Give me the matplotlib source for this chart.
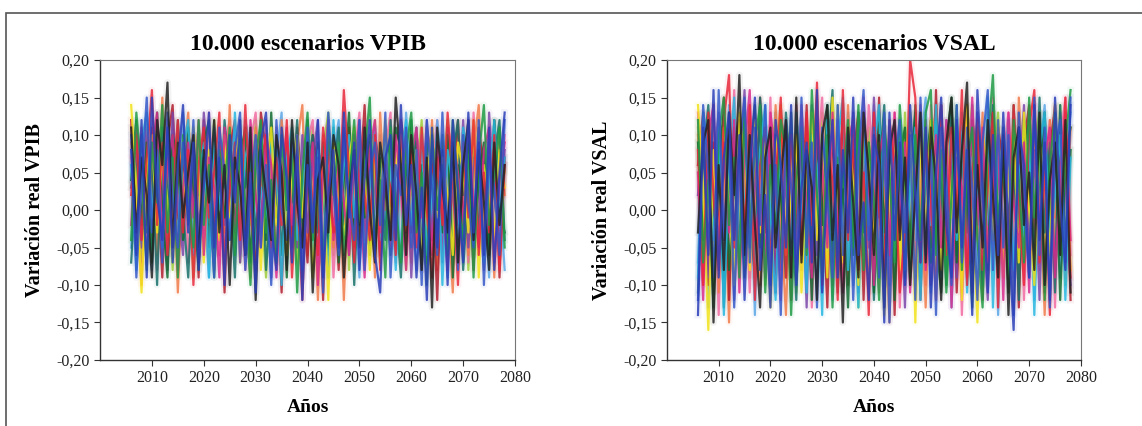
import matplotlib
matplotlib.use("Agg")
import matplotlib.pyplot as plt
import numpy as np
from matplotlib.patches import Rectangle
from matplotlib.ticker import FuncFormatter

# Scenario paths, in hundredths, one value per year from 2006
FIRST_YEAR = 2006

vpib_blue = [8, -6, 12, -9, 15, 2, -4, 11, -7, 6, 14, -3, 9, -8, 3, 13, -5, 7, -10, 10,
             1, 12, -6, 5, -11, 9, 13, -2, -8, 11, 4, -7, 10, -12, 6, -3, 12, -9, 2, 8,
             -5, 13, -1, 9, -8, 4, 12, -6, -11, 7, 10, -4, 14, -2, 6, -9, 3, -12, 11, -5,
             8, -10, 12, 2, -7, 13, -3, 9, -6, 11, -8, 5, 13]
vpib_red = [2, 10, -4, 7, 16, -2, 9, -6, 4, 12, -3, 8, -10, 6, 11, -1, 5, 13, -7, 3,
            9, -4, 14, 0, -8, 6, 10, -5, 7, -2, 12, -9, 3, -12, 8, 1, -6, 11, 4, -3,
            -1, 16, 5, -7, 9, 2, -4, 10, -8, 6, 3, -6, 12, -3, 8, -5, 11, 0, -9, 7,
            -2, 13, 4, -10, 9, -1, 12, -6, 5, -3, 10, -8, 6]
vpib_green = [-4, 13, 5, -8, 9, 1, 14, -3, 7, -9, 10, 2, -5, 12, -2, 6, -9, 8, 3, 11,
              -6, 9, 1, -10, 7, 12, -3, 4, -7, 10, 0, 8, -11, 5, 13, -4, 6, -8, 11, 2,
              9, -6, 3, 12, -2, 7, 15, -5, 4, -9, 11, 1, -7, 8, 13, -3, 5, -10, 10, 0,
              6, -6, 12, 3, -4, 9, -9, 7, 14, -2, 4, 11, -5]
vpib_yellow = [14, 3, -11, 6, 10, -3, 8, 1, -6, 9, 4, -2, 11, 5, -7, 8, 2, -4, 10, -1,
               6, 12, -5, 3, 9, -8, 5, 11, -2, 7, -6, 4, 10, -1, 8, -9, 3, 6, -12, 9,
               2, -4, 7, 11, -3, 5, -8, 9, 1, 12, -2, 6, 10, -5, 3, 8, -7, 4, 11, -1,
               7, 2, -6, 9, 5, -3, 12, -9, 6, 1, -4, 8, 3]
vpib_cyan = [6, -8, 9, 13, -1, 7, -5, 10, 2, -3, 8, 12, -6, 4, 9, -9, 11, 0, 6, -4,
             13, -2, 7, 10, -7, 3, -1, 9, 5, -10, 7, 11, -4, 2, 10, -6, 8, 4, -9, 12,
             -3, 6, 10, -1, 8, -7, 3, 11, -4, 9, 5, -8, 7, 12, -2, 4, 9, -6, 2, 10,
             -10, 8, 3, -5, 11, 6, -2, 9, -7, 4, 12, -1, 7]
vpib_magenta = [-2, 11, 4, -7, 8, 13, -4, 6, 10, -8, 3, 9, -1, 12, -6, 7, 3, -9, 11, 5,
                -3, 8, -6, 12, 2, -5, 10, 6, -9, 4, 11, -2, 7, -7, 3, 9, -10, 5, 12, -4,
                7, 1, -6, 10, 4, -9, 8, 12, -3, 5, -5, 10, 3, -8, 7, 11, -1, 6, -6, 9,
                2, -8, 10, 5, -2, 12, 1, -5, 8, 11, -7, 4, 9]
vpib_black = [11, -3, 7, 2, -9, 12, 6, 17, -5, 9, -1, 5, 10, -7, 8, 1, 12, -3, 6, -10,
              7, 3, -6, 11, -12, 8, 2, -4, 10, 5, -8, 12, 1, -5, 9, -11, 4, 7, -3, 10,
              6, -9, 2, 8, -5, 11, 0, -7, 9, 4, -4, 15, 6, -6, 10, 2, -8, 7, -13, 11,
              3, -3, 9, -7, 6, 12, -4, 8, 1, -8, 9, -2, 6]
vpib_orange = [9, 1, -10, 11, 5, -6, 15, -2, 8, -11, 6, 13, -4, 9, 2, -7, 11, 4, -3, 14,
               -5, 7, 0, -9, 11, 4, -2, 8, -7, 12, 3, -4, 9, 14, -6, 5, -12, 10, 2, -5,
               8, -12, 6, 1, 10, -3, 7, -9, 13, 0, 6, -4, 11, 3, -7, 9, 5, -2, 12, -8,
               7, 1, -11, 10, 4, -6, 8, 14, -3, 6, -9, 10, 2]
vpib_purple = [3, 8, -5, 12, -2, 10, 4, -8, 13, 1, -6, 10, 6, -3, 13, 4, -8, 9, -2, 7,
               11, -7, 5, 2, 9, -3, 12, -9, 6, 0, 8, 5, -5, 10, -3, 7, 12, -7, 4, 9,
               -2, 11, -6, 5, 12, -4, 9, 3, -6, 10, 7, -2, 4, 10, -9, 6, 1, 12, -4, 8,
               -7, 11, 5, -2, 12, -5, 7, 3, -8, 13, 2, -5, 8]
vpib_teal = [-7, 5, 10, -3, 7, -10, 11, 3, -6, 12, 0, -9, 7, 2, 10, -5, 8, -2, 12, 4,
             -9, 11, 3, 7, -4, 10, -8, 2, 9, -6, 6, 1, 12, -9, 5, 10, -3, 9, -6, 5,
             11, -2, 9, -10, 6, 3, -6, 10, 5, -4, 12, 0, -9, 6, 2, 11, -6, 9, 4, -3,
             10, -4, 7, 12, -8, 3, 10, -3, 6, -5, 7, 12, -4]
vpib_blue2 = [10, -9, 4, 15, -3, 8, -7, 13, 1, -5, 9, -2, 12, -6, 7, 3, -9, 11, 5, -4,
              8, 13, -8, 2, 10, -5, 6, -10, 12, 0, -4, 9, 5, -8, 11, -2, 7, -11, 13, 3,
              -6, 10, 1, -4, 12, -8, 5, 9, -2, 13, -9, 6, 2, 11, -5, 8, -10, 12, 3, -6,
              13, -3, 7, -8, 10, 1, -5, 12, -10, 7, 3, -6, 12]
vpib_dkgreen = [4, 12, -2, 9, -7, 13, 0, -9, 10, 6, -4, 11, 2, -8, 9, 12, -6, 4, -1, 10,
                -3, 7, 11, -7, 5, 9, -4, 13, -1, 6, -9, 10, 4, -3, 12, -8, 9, 2, -5, 11,
                -7, 4, 13, -3, 8, -1, 10, -6, 7, 3, -6, 11, 8, -4, 12, -2, 6, -7, 9, 5,
                -3, 10, -9, 6, 2, 11, -5, 4, 9, -6, 12, 0, -3]
vpib_pink = [7, 3, 11, -5, 10, -8, 6, 12, -3, 4, 11, -7, 5, 10, -3, 13, 1, -6, 8, 12,
             -2, 5, -8, 9, 13, -1, 7, -6, 11, 3, -5, 6, 10, -2, 9, 12, -7, 3, 8, -9,
             5, 10, -4, 7, 13, -6, 2, 11, -1, 8, 13, -7, 9, 4, -3, 10, 7, -9, 5, 12,
             -1, 6, 11, -4, 8, -7, 13, 2, -5, 9, 6, -7, 10]
vpib_ltblue = [-5, 9, 1, 12, -8, 5, 10, -4, 12, -7, 13, 4, -6, 8, 1, -9, 10, 6, -7, 9,
               4, -6, 12, 8, -3, 11, 2, -9, 7, 13, -7, 4, 9, -6, 12, 3, -5, 10, -9, 7,
               12, -3, 8, 4, -9, 11, 6, -4, 10, -2, 9, 4, -6, 13, 1, -8, 10, 6, -3, 12,
               5, -9, 8, 11, -1, 7, -6, 10, 4, -9, 11, 3, -8]
vpib_dkred = [12, -4, 8, -2, 11, 5, -9, 9, 14, -4, 7, 1, 10, -9, 12, 5, -3, 9, -11, 8,
              12, -1, 4, 10, -6, 13, 8, -3, 5, -11, 9, -5, 11, 2, -7, 10, 6, -12, 9, 4,
              -8, 7, 11, -5, 3, 14, -2, 8, -6, 10, 1, -5, 12, 7, -3, 9, -8, 11, 6, -12,
              9, -6, 4, 12, -2, 7, -8, 11, 5, -5, 12, -9, 7]
vpib_lime = [3, 8, -7, 10, 4, -5, 12, 5, -8, 10, 2, 7, -9, 11, 4, -2, 12, -5, 9, 1,
             11, -7, 8, -2, 12, 1, -9, 10, 4, 8, -3, 11, -7, 6, 2, 11, -4, 8, 13, -6,
             3, 9, -8, 11, 1, 6, -3, 12, -7, 4, 10, -2, 6, -8, 11, 4, 12, -3, 8, -7,
             4, 12, -5, 2, 10, -8, 6, 11, -3, 8, -6, 9, 5]

vsal_blue = [-14, 11, -6, 16, -9, 7, 13, -4, 10, -12, 5, 15, -8, 2, -13, 12, 6, -5, 14, -10,
             3, 9, -7, 16, -11, 4, 12, -9, 8, -3, 15, -6, 1, -12, 10, 6, -15, 13, -4, 9,
             -10, 14, 2, -7, 11, -13, 5, 15, -2, -9, 12, -5, 8, -14, 16, 3, -11, 10, -6, 13,
             -3, -16, 11, 6, -9, 14, -4, 9, -12, 15, 1, -8, 14]
vsal_red = [8, -10, 13, 2, -8, 12, 18, -5, 9, -3, 14, -12, 6, 11, -7, 3, 15, -9, 10, 1,
            -6, 13, -2, 17, -10, 8, 4, -12, 16, -4, 10, -8, 5, -14, 13, 0, -9, 12, 6, -11,
            -3, 20, 15, -7, 9, 2, -12, 14, -6, 11, -1, 16, -10, 5, 12, -8, 3, 13, -13, 9,
            -5, 14, 2, -10, 11, 16, -7, 6, -14, 12, -2, 15, -9]
vsal_green = [12, -7, 4, -13, 10, 15, -2, 7, -9, 13, -5, 9, 14, -11, 6, -3, 12, 8, -14, 4,
              11, -6, 16, 2, -9, 10, -13, 7, 3, 12, -5, 14, -8, 9, 1, -12, 11, 5, -7, 14,
              4, -9, 10, -4, 13, 16, -6, 8, -11, 2, 14, -8, 6, 11, -4, -13, 9, 18, -2, 7,
              -10, 12, 4, -7, 15, -1, 10, -12, 6, 13, -6, 9, 16]
vsal_yellow = [14, 3, -16, 8, -5, 11, 1, -10, 13, 6, -8, 12, -3, 9, -13, 7, 14, -6, 2, 10,
               -11, 5, 13, -4, 8, -9, 15, 1, -7, 11, 4, -10, 12, 7, -5, 9, -14, 3, 10, -8,
               6, 13, -15, 9, -3, 12, 5, -8, 11, -1, 8, -12, 14, 2, -15, 10, 6, -4, 12, -9,
               5, 11, -7, 13, 0, -10, 9, 4, -6, 14, -3, 10, -8]
vsal_cyan = [-9, 13, 7, -4, 11, -14, 6, 15, -7, 3, 12, -10, 8, 14, -1, -12, 9, 5, -6, 13,
             2, -11, 10, 6, -14, 12, -3, 9, 15, -8, 4, -13, 11, -2, 8, 14, -10, 6, -5, 12,
             -8, 3, 11, -12, 7, -2, 14, -9, 5, 10, -4, 13, -11, 7, 2, -6, 15, -13, 9, 4,
             12, -8, 6, -3, 11, -14, 8, 13, -5, 2, 10, -12, 7]
vsal_magenta = [5, -12, 10, 14, -6, 9, -3, 12, -11, 8, 16, -4, 2, -9, 13, 7, -12, 10, 4, -7,
                14, 0, -9, 11, 6, -5, 13, -2, -11, 9, 12, -7, 15, 3, -10, 7, 11, -6, 13, -3,
                9, -11, 5, 14, -8, 1, 10, -5, 12, -13, 7, 3, -9, 15, -2, 11, -7, 4, 10, -12,
                13, 1, -5, 9, -11, 14, -2, 7, 11, -9, 5, 13, -4]
vsal_black = [-3, 9, 12, -15, 6, -8, 13, 2, 18, -6, 10, -2, -13, 7, 11, -5, 4, 12, -9, 15,
              -7, 8, 3, -12, 10, 14, -4, 6, -15, 11, 1, -9, 13, 5, -6, 10, -13, 8, 12, -4,
              7, -10, 2, 13, -7, 11, 4, -12, 9, 15, -3, 8, 17, -11, 6, -5, 12, 2, -9, 10,
              -14, 7, 11, -2, 5, -8, 13, -10, 4, 9, -6, 12, -11]
vsal_orange = [10, -5, 3, 14, -11, 6, -15, 11, 8, -2, 13, 5, -10, 9, -6, 14, -1, -14, 8, 3,
               12, -8, 6, 15, -3, -7, 11, 4, -10, 14, -2, 9, 6, -11, 13, -8, 3, -15, 10, 7,
               -5, 12, -9, 4, -13, 8, 14, -1, 10, -7, 5, -11, 12, 8, -4, 13, -9, 2, 11, -6,
               9, -13, 15, 3, -8, 10, 5, -14, 12, -1, 7, -9, 11]
vsal_purple = [2, 11, -9, 6, 13, -4, 9, -12, 5, 16, -6, 3, 12, -8, 8, -11, 14, 2, -5, 11,
               7, -13, 14, -6, 9, 3, -10, 12, 6, -4, 13, -11, 8, -5, 15, -1, 7, -10, 11, 4,
               -13, 9, 6, -6, 12, -10, 3, 14, -4, 8, -9, 11, 5, -7, 13, 0, -12, 10, 6, -5,
               12, -9, 3, 14, -6, 8, -12, 11, 2, -8, 13, 4, -10]
vsal_teal = [-11, 7, 14, -2, 9, -13, 4, 11, -6, 13, 0, -9, 15, 6, -4, 10, -8, 13, 3, -12,
             9, 5, -4, 12, -8, 7, 16, -11, 4, 10, -6, 13, -3, 8, -12, 5, 14, -6, 2, 11,
             -9, 6, 13, -5, 10, -7, 12, 3, -10, 14, -6, 9, -3, 12, 7, -10, 4, 14, -7, 11,
             -2, 8, -12, 12, 4, -7, 15, -3, 9, -11, 14, -5, 8]
vsal_blue2 = [-12, 14, 5, -9, 16, -4, 10, -13, 8, 15, -7, 11, -2, 14, -10, 6, -14, 12, 3, -8,
              15, -5, 9, -13, 11, 2, -9, 14, -6, 10, -12, 7, 16, -4, 11, -9, 13, -15, 6, 12,
              -3, 10, -12, 15, -6, 8, -14, 11, 4, -10, 14, -7, 11, 3, -12, 9, 16, -8, 12, -5,
              10, -14, 13, 1, -9, 15, -6, 11, -13, 8, 12, -7, 15]
vsal_dkgreen = [9, -4, 12, -11, 7, 13, -8, 4, 11, -9, 6, 14, -5, 10, -12, 8, 2, -9, 13, -4,
                11, 6, -12, 9, -2, 14, -7, 10, 3, -13, 8, -4, 12, 6, -11, 13, -3, 9, -12, 7,
                11, -6, 14, -9, 5, 12, -4, -11, 9, 15, -7, 10, 2, -13, 11, 6, -8, 13, -4, 9,
                -11, 14, -6, 8, 12, -9, 5, 13, -3, 10, -12, 7, 11]
vsal_pink = [13, -9, 6, 10, -14, 12, -4, 16, -7, 5, -11, 13, 8, -6, 15, -10, 7, 11, -4, 14,
             -8, 12, -13, 6, 15, -5, 9, -10, 13, 4, -9, 12, -6, 14, 5, -11, 10, -4, 13, -13,
             8, 12, -7, 10, -10, 14, 3, -6, 12, -8, 11, -14, 9, 13, -6, 10, -3, 15, -10, 7,
             13, -5, 11, -12, 8, 14, -8, 5, 12, -13, 9, 15, -6]
vsal_ltblue = [-7, 10, -13, 12, 3, -9, 14, -6, 11, -4, 9, -14, 12, 5, -8, 13, -3, 10, -12, 7,
               13, -9, 5, 11, -6, 14, -12, 8, -2, 13, -10, 6, 12, -8, 14, -4, 9, -12, 11, 3,
               -9, 13, -4, 8, 15, -11, 10, -5, 12, -13, 6, 11, -7, 14, -10, 8, -2, 12, -14, 9,
               5, -10, 13, -5, 10, -12, 7, 14, -4, 11, -9, 6, 13]
vsal_dkred = [6, 13, -10, 9, -4, 15, -12, 8, 12, -6, 10, -9, 15, -3, 11, -11, 13, 7, -12, 9,
              -4, 14, -8, 10, 4, -13, 12, -6, 14, -10, 7, 13, -12, 9, -3, 15, -8, 11, -14, 10,
              5, -8, 13, -12, 10, -5, 16, -9, 8, 12, -11, 6, 14, -7, 10, -12, 13, -4, 11, 6,
              -9, 12, -13, 9, 14, -5, 11, -11, 8, 14, -6, 11, -12]
vsal_lime = [11, -6, 13, -9, 8, 12, -11, 6, -5, 14, -9, 7, 12, -10, 5, 13, -7, 11, 8, -11,
             12, -4, 10, -9, 13, 6, -11, 14, -5, 8, 12, -13, 7, 11, -8, 12, -5, 10, 7, -9,
             13, -7, 9, -11, 12, 5, -8, 14, -10, 6, 12, -9, 8, 14, -6, 11, -10, 5, 13, -8,
             10, 6, -11, 12, -4, 9, 13, -8, 10, -6, 14, -10, 8]

# drawing order mixes the colours; blue and black end on top as in the print
vpib = [vpib_lime, vpib_pink, vpib_ltblue, vpib_orange, vpib_dkred, vpib_purple,
        vpib_teal, vpib_dkgreen, vpib_cyan, vpib_yellow, vpib_magenta, vpib_red,
        vpib_green, vpib_blue2, vpib_black, vpib_blue]
vsal = [vsal_lime, vsal_pink, vsal_ltblue, vsal_orange, vsal_dkred, vsal_purple,
        vsal_teal, vsal_dkgreen, vsal_cyan, vsal_yellow, vsal_magenta, vsal_red,
        vsal_green, vsal_blue2, vsal_black, vsal_blue]
colors = ["#9ccc3a", "#f06aa0", "#5aa6e6", "#f07a4a", "#b01c2c", "#7a45a8",
          "#16706a", "#0f6a30", "#26b6e0", "#f2e21a", "#d82a8c", "#e8283a",
          "#1f9a45", "#3358c8", "#222222", "#2a3fb8"]

titles = ["10.000 escenarios VPIB", "10.000 escenarios VSAL"]
ylabels = ["Variación real VPIB", "Variación real VSAL"]
xticks = [2010, 2020, 2030, 2040, 2050, 2060, 2070, 2080]
yticks = [-0.20, -0.15, -0.10, -0.05, 0.00, 0.05, 0.10, 0.15, 0.20]

SERIF = "Liberation Serif"

fig = plt.figure(figsize=(11.42, 4.26), dpi=100)
fig.patches.append(Rectangle((6 / 1142, -0.1), 1.2, 1 - 13 / 426 + 0.1,
                             transform=fig.transFigure, fill=False,
                             edgecolor="#555555", lw=1.2))

positions = [[0.0876, 0.155, 0.3634, 0.704], [0.584, 0.155, 0.3625, 0.704]]
comma = FuncFormatter(lambda v, p: f"{v:.2f}".replace(".", ","))

for pos, data, title, ylabel in zip(positions, [vpib, vsal], titles, ylabels):
    ax = fig.add_axes(pos)
    # soft halo, like the blurred print
    for series, c in zip(data, colors):
        yrs = np.arange(FIRST_YEAR, FIRST_YEAR + len(series))
        ax.plot(yrs, np.array(series) / 100, color=c, lw=5, alpha=0.06)
    for series, c in zip(data, colors):
        yrs = np.arange(FIRST_YEAR, FIRST_YEAR + len(series))
        ax.plot(yrs, np.array(series) / 100, color=c, lw=1.6, alpha=0.85)

    ax.set_xlim(2000, 2080)
    ax.set_ylim(-0.20, 0.20)
    ax.set_xticks(xticks)
    ax.set_yticks(yticks)
    ax.yaxis.set_major_formatter(comma)
    ax.tick_params(direction="out", length=4, width=0.8, color="#333333",
                   labelsize=11.5, labelcolor="#222222")
    for lab in ax.get_xticklabels() + ax.get_yticklabels():
        lab.set_fontfamily(SERIF)
    for side in ["left", "bottom"]:
        ax.spines[side].set_color("#333333")
        ax.spines[side].set_linewidth(1.0)
    for side in ["top", "right"]:
        ax.spines[side].set_color("#777777")
        ax.spines[side].set_linewidth(0.8)
    ax.set_title(title, fontfamily=SERIF, fontweight="bold", fontsize=17, pad=7)
    ax.set_ylabel(ylabel, fontfamily=SERIF, fontweight="bold", fontsize=14.5, labelpad=8)
    ax.set_xlabel("Años", fontfamily=SERIF, fontweight="bold", fontsize=14, labelpad=9)

fig.savefig("out.png", dpi=100)
